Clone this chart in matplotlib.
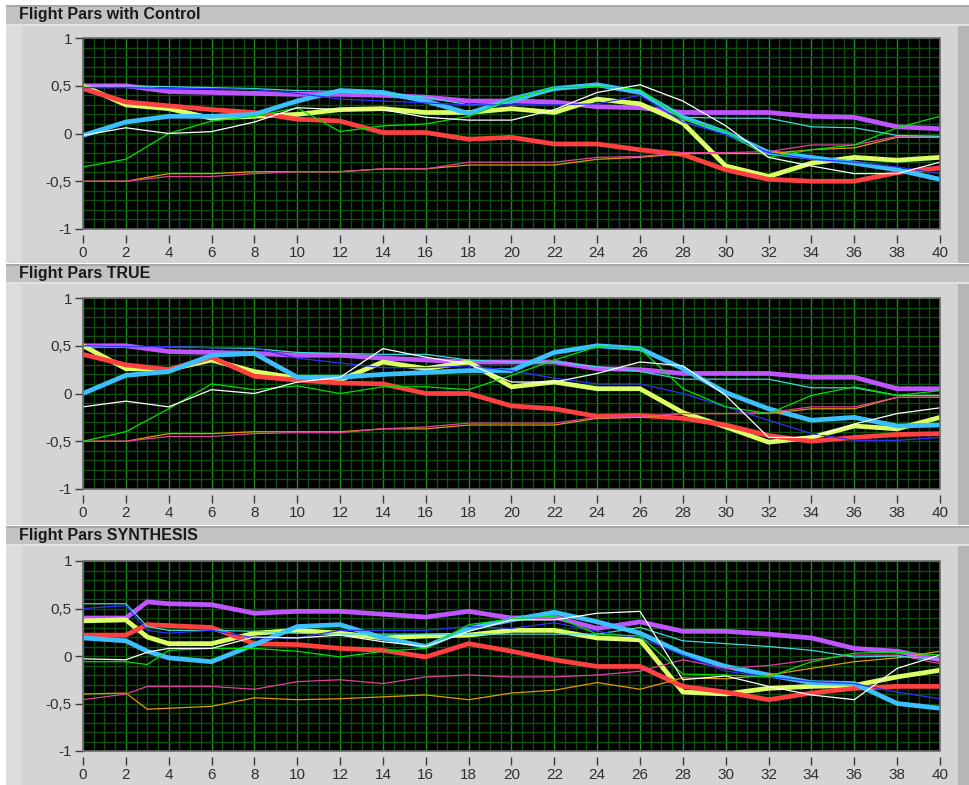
import matplotlib
matplotlib.use("Agg")
import matplotlib.pyplot as plt
from matplotlib.patches import Rectangle
from matplotlib.ticker import MultipleLocator, FuncFormatter

W, H = 970, 785

X = list(range(0, 41, 2))
X_SYN = [0, 2, 3] + list(range(4, 41, 2))

# Flight Pars with Control
CTRL_PURPLE = [0.50, 0.50, 0.44, 0.43, 0.42, 0.41, 0.41, 0.40, 0.38, 0.34, 0.34, 0.33, 0.28, 0.27, 0.22, 0.22, 0.22, 0.18, 0.17, 0.07, 0.05]
CTRL_RED = [0.47, 0.33, 0.29, 0.25, 0.22, 0.15, 0.13, 0.01, 0.01, -0.06, -0.04, -0.11, -0.11, -0.17, -0.22, -0.38, -0.48, -0.50, -0.50, -0.41, -0.36]
CTRL_YELLOW = [0.50, 0.30, 0.26, 0.16, 0.18, 0.20, 0.25, 0.26, 0.22, 0.22, 0.26, 0.22, 0.36, 0.31, 0.11, -0.34, -0.45, -0.31, -0.25, -0.28, -0.25]
CTRL_LBLUE = [-0.02, 0.12, 0.18, 0.18, 0.20, 0.34, 0.45, 0.43, 0.34, 0.21, 0.36, 0.47, 0.51, 0.43, 0.17, 0.01, -0.20, -0.25, -0.31, -0.38, -0.48]
CTRL_WHITE = [-0.02, 0.06, 0.00, 0.02, 0.12, 0.27, 0.25, 0.25, 0.17, 0.14, 0.14, 0.25, 0.43, 0.51, 0.34, 0.08, -0.25, -0.34, -0.42, -0.42, -0.30]
CTRL_GREEN = [-0.35, -0.27, 0.00, 0.13, 0.18, 0.27, 0.02, 0.08, 0.10, 0.18, 0.36, 0.48, 0.49, 0.46, 0.15, 0.02, -0.25, -0.17, -0.12, 0.06, 0.18]
CTRL_BLUE = [0.48, 0.48, 0.47, 0.47, 0.46, 0.42, 0.36, 0.34, 0.32, 0.30, 0.30, 0.30, 0.31, 0.40, 0.12, -0.01, -0.20, -0.27, -0.30, -0.35, -0.42]
CTRL_CYAN = [0.50, 0.50, 0.49, 0.48, 0.47, 0.45, 0.44, 0.42, 0.38, 0.30, 0.32, 0.46, 0.50, 0.45, 0.17, 0.16, 0.16, 0.07, 0.06, -0.02, -0.03]
CTRL_PINK = [-0.50, -0.50, -0.45, -0.45, -0.42, -0.40, -0.40, -0.37, -0.37, -0.30, -0.30, -0.30, -0.25, -0.24, -0.20, -0.20, -0.19, -0.12, -0.12, -0.03, -0.03]
CTRL_ORANGE = [-0.50, -0.50, -0.42, -0.42, -0.40, -0.40, -0.40, -0.37, -0.37, -0.33, -0.33, -0.33, -0.27, -0.25, -0.21, -0.21, -0.21, -0.17, -0.15, -0.04, -0.04]

# Flight Pars TRUE
TRUE_PURPLE = [0.50, 0.50, 0.44, 0.43, 0.42, 0.40, 0.40, 0.37, 0.35, 0.33, 0.33, 0.33, 0.26, 0.25, 0.21, 0.21, 0.21, 0.17, 0.17, 0.05, 0.05]
TRUE_RED = [0.41, 0.30, 0.25, 0.38, 0.18, 0.14, 0.11, 0.10, 0.00, 0.00, -0.13, -0.16, -0.24, -0.23, -0.26, -0.33, -0.44, -0.50, -0.46, -0.43, -0.42]
TRUE_YELLOW = [0.50, 0.26, 0.25, 0.35, 0.23, 0.16, 0.14, 0.33, 0.26, 0.33, 0.07, 0.12, 0.05, 0.05, -0.20, -0.35, -0.51, -0.46, -0.34, -0.37, -0.25]
TRUE_LBLUE = [0.00, 0.19, 0.23, 0.40, 0.42, 0.17, 0.17, 0.20, 0.22, 0.24, 0.24, 0.43, 0.50, 0.47, 0.26, 0.01, -0.16, -0.28, -0.25, -0.34, -0.33]
TRUE_WHITE = [-0.14, -0.08, -0.14, 0.04, 0.00, 0.12, 0.17, 0.47, 0.38, 0.31, 0.12, 0.12, 0.21, 0.33, 0.29, -0.02, -0.46, -0.46, -0.32, -0.21, -0.15]
TRUE_GREEN = [-0.50, -0.40, -0.16, 0.10, 0.04, 0.08, 0.00, 0.07, 0.07, 0.04, 0.19, 0.35, 0.49, 0.47, 0.05, -0.14, -0.21, -0.02, 0.07, -0.02, 0.03]
TRUE_BLUE = [0.50, 0.49, 0.49, 0.48, 0.48, 0.37, 0.32, 0.27, 0.27, 0.29, 0.24, 0.16, 0.10, 0.10, 0.00, -0.14, -0.28, -0.42, -0.49, -0.49, -0.46]
TRUE_CYAN = [0.50, 0.49, 0.49, 0.48, 0.47, 0.43, 0.42, 0.41, 0.41, 0.35, 0.33, 0.33, 0.28, 0.23, 0.15, 0.15, 0.15, 0.06, 0.06, -0.02, -0.02]
TRUE_PINK = [-0.50, -0.50, -0.45, -0.45, -0.42, -0.41, -0.41, -0.37, -0.35, -0.31, -0.31, -0.31, -0.25, -0.24, -0.21, -0.21, -0.20, -0.14, -0.14, -0.04, -0.04]
TRUE_ORANGE = [-0.50, -0.50, -0.42, -0.42, -0.40, -0.40, -0.40, -0.37, -0.37, -0.33, -0.33, -0.33, -0.26, -0.25, -0.21, -0.21, -0.21, -0.16, -0.16, -0.04, -0.04]

# Flight Pars SYNTHESIS (extra point at x=3)
SYN_PURPLE = [0.40, 0.40, 0.57, 0.55, 0.54, 0.45, 0.47, 0.47, 0.44, 0.41, 0.47, 0.40, 0.41, 0.29, 0.36, 0.26, 0.26, 0.23, 0.19, 0.08, 0.05, -0.04]
SYN_RED = [0.22, 0.22, 0.33, 0.32, 0.30, 0.13, 0.12, 0.08, 0.06, -0.01, 0.13, 0.05, -0.04, -0.11, -0.11, -0.32, -0.38, -0.46, -0.39, -0.34, -0.32, -0.32]
SYN_YELLOW = [0.37, 0.38, 0.20, 0.13, 0.13, 0.24, 0.27, 0.24, 0.19, 0.21, 0.22, 0.27, 0.27, 0.19, 0.17, -0.38, -0.40, -0.34, -0.32, -0.31, -0.22, -0.15]
SYN_LBLUE = [0.19, 0.16, 0.05, -0.02, -0.06, 0.12, 0.31, 0.33, 0.19, 0.10, 0.29, 0.38, 0.46, 0.36, 0.24, 0.03, -0.11, -0.20, -0.28, -0.29, -0.50, -0.55]
SYN_WHITE = [-0.03, -0.04, 0.04, 0.08, 0.08, 0.20, 0.19, 0.22, 0.15, 0.10, 0.26, 0.38, 0.38, 0.45, 0.47, -0.25, -0.21, -0.32, -0.41, -0.46, -0.13, 0.01]
SYN_GREEN = [-0.06, -0.06, -0.09, 0.06, 0.08, 0.08, 0.05, -0.01, 0.05, 0.08, 0.33, 0.39, 0.42, 0.23, 0.21, -0.19, -0.20, -0.22, -0.06, 0.03, 0.04, 0.01]
SYN_BLUE = [0.50, 0.53, 0.27, 0.24, 0.27, 0.19, 0.19, 0.27, 0.27, 0.27, 0.31, 0.29, 0.35, 0.26, 0.19, 0.01, -0.16, -0.22, -0.27, -0.29, -0.38, -0.45]
SYN_CYAN = [0.55, 0.55, 0.31, 0.27, 0.27, 0.26, 0.24, 0.23, 0.23, 0.23, 0.23, 0.23, 0.23, 0.23, 0.30, 0.16, 0.13, 0.10, 0.06, -0.01, 0.00, -0.04]
SYN_PINK = [-0.46, -0.40, -0.32, -0.32, -0.32, -0.35, -0.27, -0.25, -0.29, -0.22, -0.20, -0.22, -0.22, -0.20, -0.16, -0.04, -0.13, -0.10, -0.04, 0.01, 0.01, -0.08]
SYN_ORANGE = [-0.40, -0.39, -0.56, -0.55, -0.53, -0.44, -0.46, -0.45, -0.43, -0.41, -0.46, -0.39, -0.36, -0.28, -0.35, -0.23, -0.24, -0.20, -0.13, -0.06, -0.02, 0.05]

TITLES = ["Flight Pars with Control", "Flight Pars TRUE", "Flight Pars SYNTHESIS"]

# color, linewidth for each trace, in drawing order
STYLES = [
    ("#bf55ff", 3.4),  # purple
    ("#dcff66", 3.4),  # yellow-green
    ("#ff4040", 3.4),  # red
    ("#3cbfff", 3.4),  # light blue
    ("#e09a00", 0.9),  # orange
    ("#e040a0", 0.9),  # pink
    ("#40d8d8", 0.9),  # cyan
    ("#3030ff", 0.9),  # blue
    ("#00e000", 0.9),  # green
    ("#ffffff", 0.9),  # white
]

PANELS = [
    (X, [CTRL_PURPLE, CTRL_YELLOW, CTRL_RED, CTRL_LBLUE, CTRL_ORANGE, CTRL_PINK,
         CTRL_CYAN, CTRL_BLUE, CTRL_GREEN, CTRL_WHITE]),
    (X, [TRUE_PURPLE, TRUE_YELLOW, TRUE_RED, TRUE_LBLUE, TRUE_ORANGE, TRUE_PINK,
         TRUE_CYAN, TRUE_BLUE, TRUE_GREEN, TRUE_WHITE]),
    (X_SYN, [SYN_PURPLE, SYN_YELLOW, SYN_RED, SYN_LBLUE, SYN_ORANGE, SYN_PINK,
             SYN_CYAN, SYN_BLUE, SYN_GREEN, SYN_WHITE]),
]

# pixel layout: title bar top, body top, body bottom, plot top, plot bottom
FRAMES = [
    (5, 25, 263, 38, 229),
    (264, 283, 525, 298, 489),
    (526, 545, 785, 561, 751),
]
PLOT_LEFT, PLOT_RIGHT = 83, 940


def px_rect(fig, x0, y0, x1, y1, color, z=0):
    fig.add_artist(Rectangle((x0 / W, 1 - y1 / H), (x1 - x0) / W, (y1 - y0) / H,
                             transform=fig.transFigure, facecolor=color,
                             edgecolor="none", zorder=z))


def comma_fmt(v, pos):
    if abs(v) < 1e-9:
        return "0"
    return f"{v:g}".replace(".", ",")


fig = plt.figure(figsize=(W / 100, H / 100), dpi=100)
fig.patch.set_facecolor("white")

for title, (bar_top, body_top, body_bot, p_top, p_bot), (xs, series) in zip(TITLES, FRAMES, PANELS):
    # LabVIEW-ish frame
    px_rect(fig, 6, bar_top, 970, body_top, "#c2c2c2")
    px_rect(fig, 6, bar_top, 970, bar_top + 1.5, "#a8a8a8")
    px_rect(fig, 6, body_top, 958, body_bot, "#d4d4d4")
    px_rect(fig, 6, body_top, 22, body_bot, "#dcdcdc")
    px_rect(fig, 958, body_top, 970, body_bot, "#b6b6b6")
    px_rect(fig, 6, body_top - 1, 970, body_top + 1, "#e2e2e2")
    fig.text(19 / W, 1 - (bar_top + body_top) / 2 / H, title, fontsize=11.5,
             fontweight="bold", family="Liberation Sans", color="#1a1a1a",
             ha="left", va="center")

    ax = fig.add_axes([PLOT_LEFT / W, 1 - p_bot / H,
                       (PLOT_RIGHT - PLOT_LEFT) / W, (p_bot - p_top) / H])
    ax.set_facecolor("black")
    ax.set_xlim(0, 40)
    ax.set_ylim(-1, 1)
    ax.xaxis.set_major_locator(MultipleLocator(2))
    ax.xaxis.set_minor_locator(MultipleLocator(0.5))
    ax.yaxis.set_major_locator(MultipleLocator(0.5))
    ax.yaxis.set_minor_locator(MultipleLocator(0.1))
    ax.yaxis.set_major_formatter(FuncFormatter(comma_fmt))
    ax.grid(which="minor", color="#0b4f0b", linewidth=1.0)
    ax.grid(which="major", axis="y", color="#0b4f0b", linewidth=1.0)
    ax.grid(which="major", axis="x", color="#1d8a1d", linewidth=1.0)
    ax.set_axisbelow(True)

    for ys, (color, lw) in zip(series, STYLES):
        ax.plot(xs, ys, color=color, linewidth=lw, solid_joinstyle="miter",
                solid_capstyle="butt", zorder=3)

    for side in ("top", "right", "left", "bottom"):
        ax.spines[side].set_visible(False)
    ax.spines["bottom"].set_position(("outward", 4))
    ax.add_patch(Rectangle((0, 0), 1, 1, transform=ax.transAxes, fill=False,
                           edgecolor="#6a6a6a", linewidth=1.2, clip_on=False,
                           zorder=5))
    ax.tick_params(which="minor", length=0)
    ax.tick_params(which="major", direction="out", length=6, width=1,
                   color="#3a3a3a", labelsize=11, labelcolor="#303030", pad=2)
    for lab in ax.get_xticklabels() + ax.get_yticklabels():
        lab.set_family("Liberation Sans")

fig.savefig("out.png", dpi=100, facecolor=fig.get_facecolor())
